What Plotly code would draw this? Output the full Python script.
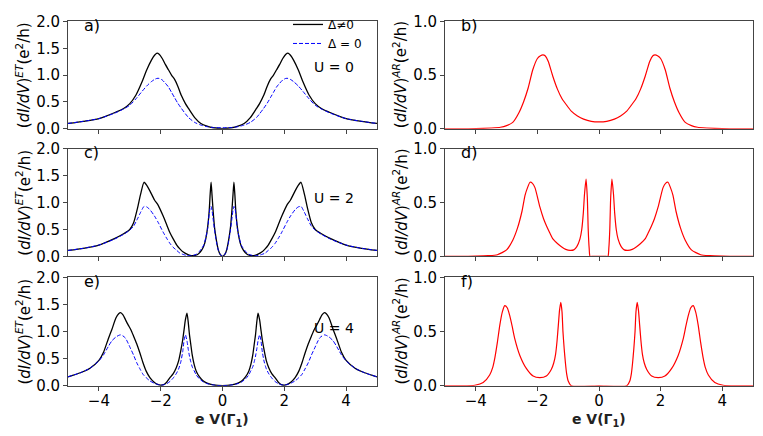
import plotly.graph_objects as go
from plotly.subplots import make_subplots

# ---- panel a) / b) : U = 0
xa = [-5, -4.5, -4, -3.5, -3.2, -3.0, -2.8, -2.6, -2.45, -2.3, -2.2, -2.12, -2.05, -1.95, -1.85, -1.75, -1.65,
      -1.55, -1.45, -1.33, -1.2, -1.1, -0.9, -0.7, -0.5, -0.3, 0, 0.3, 0.5, 0.7, 0.9, 1.1, 1.2, 1.33, 1.45, 1.55,
      1.65, 1.75, 1.85, 1.95, 2.05, 2.12, 2.2, 2.3, 2.45, 2.6, 2.8, 3.0, 3.2, 3.5, 4, 4.5, 5]
et_sc_a = [0.10, 0.14, 0.19, 0.30, 0.38, 0.47, 0.63, 0.88, 1.10, 1.28, 1.37, 1.41, 1.39, 1.31, 1.20, 1.10, 1.00,
           0.92, 0.80, 0.62, 0.47, 0.38, 0.21, 0.10, 0.05, 0.02, 0.005, 0.02, 0.05, 0.10, 0.21, 0.38, 0.47, 0.62,
           0.80, 0.92, 1.00, 1.10, 1.20, 1.31, 1.39, 1.41, 1.37, 1.28, 1.10, 0.88, 0.63, 0.47, 0.38, 0.30, 0.19,
           0.14, 0.10]
et_n_a = [0.10, 0.14, 0.19, 0.29, 0.37, 0.44, 0.56, 0.70, 0.80, 0.88, 0.92, 0.94, 0.94, 0.91, 0.85, 0.78, 0.68,
          0.58, 0.48, 0.38, 0.28, 0.21, 0.12, 0.07, 0.04, 0.025, 0.02, 0.025, 0.04, 0.07, 0.12, 0.21, 0.28, 0.38,
          0.48, 0.58, 0.68, 0.78, 0.85, 0.91, 0.94, 0.94, 0.92, 0.88, 0.80, 0.70, 0.56, 0.44, 0.37, 0.29, 0.19,
          0.14, 0.10]
xb = [-5, -4.5, -4, -3.5, -3.2, -3.0, -2.8, -2.6, -2.45, -2.3, -2.15, -2.0, -1.9, -1.82, -1.75, -1.65, -1.5, -1.35,
      -1.2, -1.05, -0.9, -0.7, -0.5, -0.25, 0, 0.25, 0.5, 0.7, 0.9, 1.05, 1.2, 1.35, 1.5, 1.65, 1.75, 1.82, 1.9,
      2.0, 2.15, 2.3, 2.45, 2.6, 2.8, 3.0, 3.2, 3.5, 4, 4.5, 5]
ar_b = [0.0, 0.0, 0.002, 0.008, 0.015, 0.03, 0.06, 0.15, 0.25, 0.38, 0.55, 0.655, 0.68, 0.688, 0.68, 0.63, 0.49,
        0.37, 0.28, 0.22, 0.165, 0.12, 0.09, 0.07, 0.065, 0.07, 0.09, 0.12, 0.165, 0.22, 0.28, 0.37, 0.49, 0.63,
        0.68, 0.688, 0.68, 0.655, 0.55, 0.38, 0.25, 0.15, 0.06, 0.03, 0.015, 0.008, 0.002, 0.0, 0.0]

# ---- panel c) / d) : U = 2
xc = [-5, -4.5, -4, -3.5, -3.2, -3.0, -2.88, -2.75, -2.65, -2.54, -2.45, -2.35, -2.2, -2.08, -1.92, -1.8, -1.7,
      -1.6, -1.48, -1.38, -1.27, -1.15, -1.05, -0.95, -0.84, -0.75, -0.67, -0.6, -0.54, -0.48, -0.43, -0.40,
      -0.37, -0.34, -0.3, -0.26, -0.22, -0.18, -0.14, -0.08, 0, 0.08, 0.14, 0.18, 0.22, 0.26, 0.3, 0.34, 0.37,
      0.40, 0.43, 0.48, 0.54, 0.6, 0.67, 0.75, 0.84, 0.95, 1.05, 1.15, 1.27, 1.38, 1.48, 1.6, 1.7, 1.8, 1.92,
      2.08, 2.2, 2.35, 2.45, 2.54, 2.65, 2.75, 2.88, 3.0, 3.2, 3.5, 4, 4.5, 5]
et_sc_c = [0.11, 0.15, 0.21, 0.33, 0.42, 0.50, 0.62, 0.90, 1.16, 1.38, 1.32, 1.22, 1.05, 0.95, 0.75, 0.58, 0.44,
           0.33, 0.21, 0.14, 0.08, 0.04, 0.02, 0.015, 0.025, 0.06, 0.12, 0.20, 0.33, 0.55, 0.85, 1.15, 1.38, 1.15,
           0.82, 0.55, 0.38, 0.24, 0.13, 0.04, 0.0, 0.04, 0.13, 0.24, 0.38, 0.55, 0.82, 1.15, 1.38, 1.15, 0.85,
           0.55, 0.33, 0.20, 0.12, 0.06, 0.025, 0.015, 0.02, 0.04, 0.08, 0.14, 0.21, 0.33, 0.44, 0.58, 0.75, 0.95,
           1.05, 1.22, 1.32, 1.38, 1.16, 0.90, 0.62, 0.50, 0.42, 0.33, 0.21, 0.15, 0.11]
et_n_c = [0.11, 0.15, 0.21, 0.32, 0.41, 0.49, 0.56, 0.70, 0.82, 0.93, 0.92, 0.87, 0.75, 0.63, 0.45, 0.33, 0.24,
          0.17, 0.11, 0.06, 0.035, 0.015, 0.01, 0.02, 0.04, 0.09, 0.15, 0.22, 0.35, 0.52, 0.80, 0.90, 0.93, 0.86,
          0.68, 0.50, 0.35, 0.22, 0.12, 0.04, 0.0, 0.04, 0.12, 0.22, 0.35, 0.50, 0.68, 0.86, 0.93, 0.90, 0.80,
          0.52, 0.35, 0.22, 0.15, 0.09, 0.04, 0.02, 0.01, 0.015, 0.035, 0.06, 0.11, 0.17, 0.24, 0.33, 0.45, 0.63,
          0.75, 0.87, 0.92, 0.93, 0.82, 0.70, 0.56, 0.49, 0.41, 0.32, 0.21, 0.15, 0.11]
xd = [-5, -4.5, -4, -3.6, -3.3, -3.0, -2.8, -2.65, -2.5, -2.4, -2.32, -2.24, -2.16, -2.08, -1.92, -1.8, -1.7,
      -1.6, -1.49, -1.35, -1.22, -1.08, -0.94, -0.82, -0.72, -0.62, -0.56, -0.51, -0.47, -0.42, -0.38, -0.35,
      -0.32, -0.29, -0.2, 0, 0.2, 0.29, 0.32, 0.35, 0.38, 0.42, 0.47, 0.51, 0.56, 0.62, 0.72, 0.82, 0.94, 1.08,
      1.22, 1.35, 1.49, 1.6, 1.7, 1.8, 1.92, 2.08, 2.16, 2.24, 2.32, 2.4, 2.5, 2.65, 2.8, 3.0, 3.3, 3.6, 4, 4.5, 5]
ar_d = [0.0, 0.0, 0.002, 0.006, 0.015, 0.06, 0.15, 0.26, 0.42, 0.57, 0.64, 0.69, 0.68, 0.64, 0.46, 0.35, 0.28,
        0.22, 0.16, 0.12, 0.09, 0.065, 0.055, 0.06, 0.09, 0.16, 0.25, 0.40, 0.58, 0.72, 0.55, 0.25, 0.08, 0.0,
        0.0, 0.0, 0.0, 0.0, 0.08, 0.25, 0.55, 0.72, 0.58, 0.40, 0.25, 0.16, 0.09, 0.06, 0.055, 0.065, 0.09, 0.12,
        0.16, 0.22, 0.28, 0.35, 0.46, 0.64, 0.68, 0.69, 0.64, 0.57, 0.42, 0.26, 0.15, 0.06, 0.015, 0.006, 0.002,
        0.0, 0.0]

# ---- panel e) / f) : U = 4
xe = [-5, -4.6, -4.3, -4.0, -3.85, -3.7, -3.58, -3.45, -3.36, -3.30, -3.22, -3.14, -3.05, -2.97, -2.88, -2.78,
      -2.67, -2.57, -2.47, -2.35, -2.22, -2.1, -2.0, -1.9, -1.8, -1.7, -1.6, -1.5, -1.42, -1.35, -1.29, -1.24,
      -1.2, -1.15, -1.11, -1.07, -1.03, -0.98, -0.92, -0.85, -0.75, -0.62, -0.5, -0.3, 0, 0.3, 0.5, 0.62, 0.75,
      0.85, 0.92, 0.98, 1.03, 1.07, 1.11, 1.15, 1.2, 1.24, 1.29, 1.35, 1.42, 1.5, 1.6, 1.7, 1.8, 1.9, 2.0, 2.1,
      2.22, 2.35, 2.47, 2.57, 2.67, 2.78, 2.88, 2.97, 3.05, 3.14, 3.22, 3.30, 3.36, 3.45, 3.58, 3.7, 3.85, 4.0,
      4.3, 4.6, 5]
et_sc_e = [0.165, 0.24, 0.32, 0.47, 0.62, 0.86, 1.04, 1.25, 1.33, 1.35, 1.31, 1.22, 1.12, 1.04, 0.92, 0.78, 0.60,
           0.42, 0.27, 0.15, 0.07, 0.025, 0.01, 0.02, 0.07, 0.15, 0.22, 0.33, 0.46, 0.65, 0.84, 1.05, 1.22, 1.34,
           1.18, 0.95, 0.78, 0.57, 0.40, 0.27, 0.17, 0.09, 0.05, 0.015, 0.0, 0.015, 0.05, 0.09, 0.17, 0.27, 0.40,
           0.57, 0.78, 0.95, 1.18, 1.34, 1.22, 1.05, 0.84, 0.65, 0.46, 0.33, 0.22, 0.15, 0.07, 0.02, 0.01, 0.025,
           0.07, 0.15, 0.27, 0.42, 0.60, 0.78, 0.92, 1.04, 1.12, 1.22, 1.31, 1.35, 1.33, 1.25, 1.04, 0.86, 0.62,
           0.47, 0.32, 0.24, 0.165]
et_n_e = [0.165, 0.24, 0.32, 0.46, 0.57, 0.72, 0.83, 0.90, 0.93, 0.94, 0.92, 0.88, 0.78, 0.68, 0.57, 0.43, 0.31,
          0.21, 0.15, 0.09, 0.05, 0.025, 0.01, 0.02, 0.04, 0.08, 0.14, 0.22, 0.31, 0.44, 0.62, 0.85, 0.94, 0.83,
          0.68, 0.55, 0.45, 0.35, 0.28, 0.20, 0.13, 0.07, 0.04, 0.015, 0.0, 0.015, 0.04, 0.07, 0.13, 0.20, 0.28,
          0.35, 0.45, 0.55, 0.68, 0.83, 0.94, 0.85, 0.62, 0.44, 0.31, 0.22, 0.14, 0.08, 0.04, 0.02, 0.01, 0.025,
          0.05, 0.09, 0.15, 0.21, 0.31, 0.43, 0.57, 0.68, 0.78, 0.88, 0.92, 0.94, 0.93, 0.90, 0.83, 0.72, 0.57,
          0.46, 0.32, 0.24, 0.165]
xf = [-5, -4.5, -4.03, -3.76, -3.55, -3.45, -3.38, -3.3, -3.22, -3.14, -3.06, -2.98, -2.9, -2.82, -2.74, -2.57,
      -2.36, -2.14, -1.92, -1.71, -1.55, -1.47, -1.41, -1.36, -1.32, -1.28, -1.24, -1.2, -1.17, -1.13, -1.09,
      -1.05, -1.0, -0.9, 0, 0.9, 1.0, 1.05, 1.09, 1.13, 1.17, 1.2, 1.24, 1.28, 1.32, 1.36, 1.41, 1.47, 1.55, 1.71,
      1.92, 2.14, 2.36, 2.57, 2.74, 2.82, 2.9, 2.98, 3.06, 3.14, 3.22, 3.3, 3.38, 3.45, 3.55, 3.76, 4.03, 4.5, 5]
ar_f = [0.0, 0.0, 0.005, 0.03, 0.10, 0.17, 0.26, 0.40, 0.56, 0.68, 0.74, 0.72, 0.65, 0.55, 0.44, 0.28, 0.16,
        0.09, 0.075, 0.09, 0.15, 0.21, 0.29, 0.42, 0.56, 0.70, 0.77, 0.68, 0.50, 0.34, 0.21, 0.11, 0.045, 0.0,
        0.0, 0.0, 0.045, 0.11, 0.21, 0.34, 0.50, 0.68, 0.77, 0.70, 0.56, 0.42, 0.29, 0.21, 0.15, 0.09, 0.075,
        0.09, 0.16, 0.28, 0.44, 0.55, 0.65, 0.72, 0.74, 0.68, 0.56, 0.40, 0.26, 0.17, 0.10, 0.03, 0.005, 0.0, 0.0]

panel_tags = ["a)", "b)", "c)", "d)", "e)", "f)"]
u_labels = ["U = 0", "U = 2", "U = 4"]
x_ticks = [-4, -2, 0, 2, 4]
et_ticks = [0.0, 0.5, 1.0, 1.5, 2.0]
ar_ticks = [0.0, 0.5, 1.0]

FONT = "DejaVu Sans"
W, H = 763, 436

fig = make_subplots(rows=3, cols=2)

et_rows = [(xa, et_sc_a, et_n_a), (xc, et_sc_c, et_n_c), (xe, et_sc_e, et_n_e)]
ar_rows = [(xb, ar_b), (xd, ar_d), (xf, ar_f)]

for r, (x, ysc, yn) in enumerate(et_rows, start=1):
    fig.add_trace(go.Scatter(x=x, y=ysc, mode="lines", name="Δ≠0", showlegend=(r == 1),
                             line=dict(color="black", width=1.3, shape="spline", smoothing=0.6)),
                  row=r, col=1)
    fig.add_trace(go.Scatter(x=x, y=yn, mode="lines", name="Δ = 0", showlegend=(r == 1),
                             line=dict(color="blue", width=1, dash="4px,2px", shape="spline", smoothing=0.6)),
                  row=r, col=1)
for r, (x, y) in enumerate(ar_rows, start=1):
    fig.add_trace(go.Scatter(x=x, y=y, mode="lines", showlegend=False,
                             line=dict(color="red", width=1.2, shape="spline", smoothing=0.6)),
                  row=r, col=2)

col_px = [(68, 377), (445, 753)]
row_px = [(13, 125), (146, 258), (280, 393)]

axis_common = dict(showline=True, mirror=True, linecolor="#444", linewidth=1, ticks="outside", ticklen=4,
                   tickcolor="#444", showgrid=False, zeroline=False,
                   tickfont=dict(family=FONT, size=15, color="black"))

for r in range(3):
    for c in range(2):
        i = r * 2 + c + 1
        xs = "" if i == 1 else str(i)
        x0, x1 = col_px[c]
        y0, y1 = row_px[r]
        fig.layout["xaxis" + xs].update(domain=[x0 / W, x1 / W], range=[-5, 5], tickvals=x_ticks,
                                        showticklabels=(r == 2), ticklabelstandoff=-3, **axis_common)
        fig.layout["yaxis" + xs].update(domain=[1 - y1 / H, 1 - y0 / H],
                                        range=[0, 2] if c == 0 else [0, 1],
                                        tickvals=et_ticks if c == 0 else ar_ticks,
                                        tickformat=".1f", **axis_common)
        # panel tag
        fig.add_annotation(text=panel_tags[i - 1], xref="paper", yref="paper",
                           x=(x0 + 14) / W, y=1 - (y0 + 4) / H, xanchor="left", yanchor="middle",
                           showarrow=False, font=dict(family=FONT, size=16, color="black"))
        # y titles
        ttl = "(<i>dI/dV</i>)<sup><i>ET</i></sup>(e<sup>2</sup>/h)" if c == 0 else \
              "(<i>dI/dV</i>)<sup><i>AR</i></sup>(e<sup>2</sup>/h)"
        fig.add_annotation(text=ttl, xref="paper", yref="paper", x=(x0 - 45) / W,
                           y=1 - (y0 + y1) / 2 / H, textangle=-90, showarrow=False,
                           xanchor="center", yanchor="middle",
                           font=dict(family=FONT, size=15, color="black"))
    # U labels
    fig.add_annotation(text=u_labels[r], xref="paper", yref="paper", x=334 / W,
                       y=1 - [61, 197, 333][r] / H, showarrow=False, xanchor="center", yanchor="middle",
                       font=dict(family=FONT, size=14, color="black"))

for c in range(2):
    x0, x1 = col_px[c]
    fig.add_annotation(text="<b>e V(Γ<sub>1</sub>)</b>", xref="paper", yref="paper", x=(x0 + x1) / 2 / W,
                       y=1 - 429 / H, showarrow=False, xanchor="center", yanchor="middle",
                       font=dict(family=FONT, size=14, color="#222"))

fig.update_layout(
    width=W, height=H, margin=dict(l=0, r=0, t=0, b=0),
    paper_bgcolor="white", plot_bgcolor="white",
    font=dict(family=FONT, color="black"),
    legend=dict(x=288 / W, y=1 - 1 / H, xanchor="left", yanchor="top", bgcolor="rgba(0,0,0,0)",
                font=dict(family=FONT, size=12), tracegroupgap=0),
)

fig.write_html("out.html", config={"displayModeBar": False},
               post_script="document.body.style.margin='0';")
